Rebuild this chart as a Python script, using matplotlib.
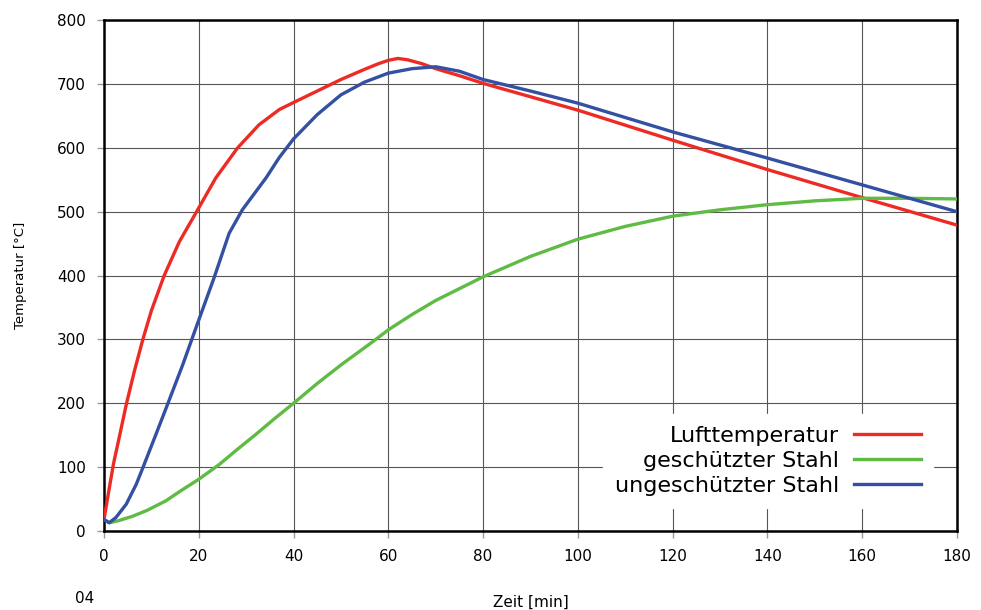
import numpy as np
import matplotlib
matplotlib.use("Agg")
import matplotlib.pyplot as plt

# Lufttemperatur
t_luft = [0, 1, 2, 3.2, 4.7, 6.4, 8.2, 10, 12.7, 15.9, 20, 23.6, 28.2, 32.7, 37, 40, 45, 50, 55, 58, 60, 62, 64, 67, 70, 75, 80, 90, 100, 120, 140, 160, 180]
T_luft = [18, 62, 105, 146, 198, 250, 300, 345, 400, 453, 506, 553, 600, 636, 660, 671, 689, 707, 723, 732, 737, 740, 738, 732, 724, 713, 701, 680, 659, 612, 566, 522, 479]

# ungeschuetzter Stahl
t_ung = [0, 1.1, 2.5, 4.7, 6.8, 8.2, 11, 13.4, 16.6, 19.4, 23.3, 26.4, 29.2, 34.2, 37, 40, 45, 50, 55, 60, 65, 70, 75, 80, 90, 100, 120, 140, 160, 180]
T_ung = [18, 13, 21, 42, 73, 99, 152, 198, 260, 318, 398, 466, 503, 553, 585, 614, 652, 683, 703, 717, 724, 727, 720, 707, 689, 670, 625, 584, 542, 500]

# geschuetzter Stahl
t_ges = [0, 1.1, 3, 6, 9, 13, 16, 20, 24.3, 28, 32, 36, 40, 45, 50, 57, 60, 65, 70, 80, 90, 100, 110, 120, 130, 140, 150, 160, 170, 180]
T_ges = [18, 13, 16, 23, 32, 47, 62, 81, 104, 127, 151, 176, 200, 231, 260, 298, 315, 339, 361, 398, 430, 457, 477, 493, 503, 511, 517, 521, 521, 520]

x_ticks = np.arange(0, 181, 20)
y_ticks = np.arange(0, 801, 100)

fig = plt.figure(figsize=(9.81, 6.10), dpi=100)
ax = fig.add_axes([0.106, 0.1295, 0.8695, 0.8375])

ax.plot(t_luft, T_luft, '-', color="#ee2a24", linewidth=2.4, label="Lufttemperatur", zorder=3)
ax.plot(t_ges, T_ges, '-', color="#5fbb43", linewidth=2.4, label="geschützter Stahl", zorder=3)
ax.plot(t_ung, T_ung, '-', color="#3450a2", linewidth=2.4, label="ungeschützter Stahl", zorder=3)

ax.set_xlim(0, 180)
ax.set_ylim(0, 800)
ax.set_xticks(x_ticks)
ax.set_yticks(y_ticks)
ax.grid(True, color="#555555", linewidth=0.8)
ax.set_axisbelow(True)
for s in ax.spines.values():
    s.set_linewidth(1.8)
    s.set_color("black")
ax.tick_params(axis='both', direction='out', length=5, width=1, color="#999999",
               labelsize=11, pad=8)

ax.set_xlabel("Zeit [min]", fontsize=11, labelpad=22)
ax.set_ylabel("Temperatur [°C]", fontsize=9.5, labelpad=24)
ax.yaxis.set_label_coords(-0.09, 0.5)

leg = ax.legend(loc='lower right', bbox_to_anchor=(0.972, 0.045), borderaxespad=0,
                markerfirst=False, fontsize=16, frameon=True, fancybox=False,
                handlelength=3.0, handletextpad=0.68, labelspacing=0.22, borderpad=0.55)
leg.get_frame().set_facecolor("white")
leg.get_frame().set_edgecolor("white")
leg.get_frame().set_alpha(1)
for line in leg.get_lines():
    line.set_linewidth(2.4)

fig.text(0.0765, 0.012, "04", fontsize=11)

fig.savefig("out.png", dpi=100)
